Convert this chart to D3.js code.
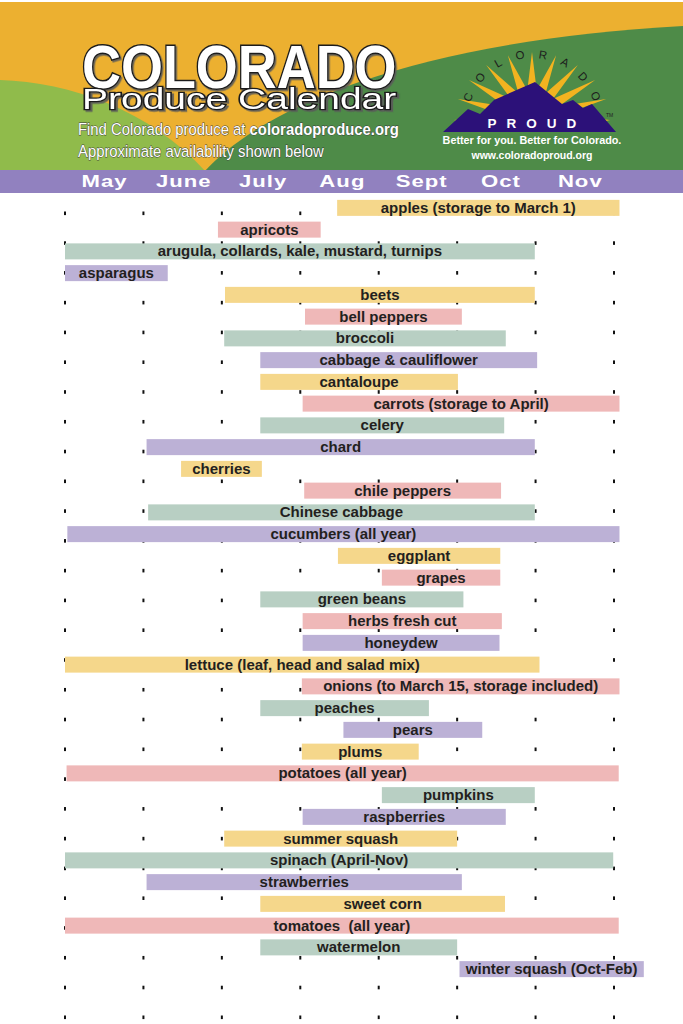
<!DOCTYPE html>
<html><head><meta charset="utf-8">
<script src="https://cdn.jsdelivr.net/npm/d3@7"></script>
<style>body{margin:0;background:#fff}svg{display:block}</style>
</head><body>
<script>
// ---------- data ----------
const months = ["May","June","July","Aug","Sept","Oct","Nov"];
const produce = [
  "apples (storage to March 1)","apricots","arugula, collards, kale, mustard, turnips","asparagus",
  "beets","bell peppers","broccoli","cabbage & cauliflower","cantaloupe","carrots (storage to April)",
  "celery","chard","cherries","chile peppers","Chinese cabbage","cucumbers (all year)","eggplant",
  "grapes","green beans","herbs fresh cut","honeydew","lettuce (leaf, head and salad mix)",
  "onions (to March 15, storage included)","peaches","pears","plums","potatoes (all year)","pumpkins",
  "raspberries","summer squash","spinach (April-Nov)","strawberries","sweet corn","tomatoes  (all year)",
  "watermelon","winter squash (Oct-Feb)"
];
// availability in months after the start of May (0 = May 1, 7 = end of Nov)
const startMonth = [3.47,1.95,0,0,2.04,3.06,2.03,2.49,2.49,3.03,2.49,1.04,1.48,3.05,1.06,0.03,3.48,
  4.04,2.49,3.03,3.03,0,3.02,2.49,3.55,3.02,0.02,4.04,3.03,2.03,0,1.04,2.49,0,2.49,5.03];
const endMonth = [7.07,3.26,5.99,1.31,5.99,5.06,5.62,6.02,5.01,7.07,5.60,5.99,2.51,5.56,5.99,7.07,5.55,
  5.55,5.08,5.57,5.54,6.05,7.07,4.64,5.32,4.51,7.06,5.99,5.62,5.00,6.99,5.06,5.61,7.06,5.00,7.38];
// colour group of each bar (0 yellow, 1 pink, 2 sage, 3 lavender)
const colorGroup = [0,1,2,3,0,1,2,3,0,1,2,3,0,1,2,3,0,1,2,1,3,0,1,2,3,0,1,2,3,0,2,3,0,1,2,3];

// ---------- setup ----------
const W = 683, H = 1024;
const svg = d3.select("body").append("svg").attr("width", W).attr("height", H);
const FONT = "'Liberation Sans', Arial, sans-serif";

const defs = svg.append("defs");
const f = defs.append("filter").attr("id","shadow").attr("x","-5%").attr("y","-10%").attr("width","115%").attr("height","130%");
f.append("feDropShadow").attr("dx",1.6).attr("dy",1.6).attr("stdDeviation",0.4).attr("flood-color","#5a5a5a").attr("flood-opacity",0.9);

const x = d3.scaleLinear().domain([0, 7]).range([65, 614]);
const y = d3.scalePoint().domain(produce).range([197, 980]).padding(0.5);
const monthX = d3.scalePoint().domain(months).range([104.5, 580.3]);
const color = d3.scaleOrdinal().domain([0,1,2,3]).range(["#f5d78b","#efb8b8","#b8cfc3","#bcb1d6"]);

// ---------- header ----------
const head = svg.append("g");
head.append("rect").attr("x",0).attr("y",2).attr("width",W).attr("height",170).attr("fill","#ecb030");
head.append("path").attr("d","M0,80 C70,82 150,110 206,172 L0,172 Z").attr("fill","#90bb4b");
head.append("path").attr("d","M204,172 C270,100 430,40 683,26 L683,172 Z").attr("fill","#4e8b48");

// title
function outlined(g, txt, tx, ty, sx, size, weight, sw) {
  g.append("g").attr("transform", `translate(${tx},${ty}) scale(${sx},1)`)
    .append("text").text(txt).attr("filter","url(#shadow)")
    .attr("font-family",FONT).attr("font-size",size).attr("font-weight",weight)
    .attr("fill","#fff").attr("stroke","#1b1b1b").attr("stroke-width",sw).style("paint-order","stroke");
}
outlined(head, "COLORADO", 82, 88, 0.87, 62, "bold", 3);
outlined(head, "Produce Calendar", 82, 109, 1.3, 30, "normal", 2.6);

const sub = head.append("g").attr("transform","translate(78,0) scale(0.9,1)")
  .attr("font-family",FONT).attr("font-size",16.5)
  .attr("fill","#fff").attr("stroke","#3a3a3a").attr("stroke-width",0.8).style("paint-order","stroke");
const l1 = sub.append("text").attr("x",0).attr("y",135);
l1.append("tspan").text("Find Colorado produce at ");
l1.append("tspan").attr("font-weight","bold").text("coloradoproduce.org");
sub.append("text").attr("x",0).attr("y",157).text("Approximate availability shown below");

// logo
const logo = head.append("g");
const cx = 532, cy = 120;
const spikes = d3.range(11).map(i => Math.PI + i * Math.PI / 10);
const pts = [];
spikes.forEach((a, i) => {
  const ro = 78, ri = 30;
  if (i > 0) {
    const am = a - Math.PI / 20;
    pts.push([cx + ri * Math.cos(am), cy + ri * Math.sin(am)]);
  }
  pts.push([cx + ro * Math.cos(a), cy + (ro - 10) * Math.sin(a)]);
});
pts.push([cx + 30, cy + 12], [cx - 30, cy + 12]);
logo.append("path").attr("d", d3.line()(pts) + "Z").attr("fill","#f2b320");

const mountains = [[443,132],[468,109],[480,114],[494,100],[535,82],[562,104],[573,100],[583,108],[592,104],[616,132]];
logo.append("path").attr("d", d3.line()(mountains) + "Z").attr("fill","#2c1179");

logo.append("text").attr("x",537).attr("y",128).attr("text-anchor","middle")
  .attr("font-family",FONT).attr("font-weight","bold").attr("font-size",13.5)
  .attr("letter-spacing",10).attr("fill","#fff").text("PROUD");
logo.append("text").attr("x",606).attr("y",117).attr("font-family",FONT)
  .attr("font-size",5).attr("fill","#222").text("TM");

"COLORADO".split("").forEach((ch, i) => {
  const ang = 202 + i * 19.3;
  const r = ang * Math.PI / 180;
  const px = cx + 69 * Math.cos(r), py = cy + 3 + 69 * Math.sin(r);
  logo.append("text").attr("transform",`translate(${px},${py}) rotate(${ang + 90})`)
    .attr("text-anchor","middle").attr("dominant-baseline","central")
    .attr("font-family",FONT).attr("font-size",11.5).attr("fill","#1d1d1d").text(ch);
});

const tag = logo.append("g").attr("font-family",FONT).attr("font-weight","bold")
  .attr("fill","#fff").attr("text-anchor","middle");
tag.append("text").attr("x",532).attr("y",144).attr("font-size",10.8).text("Better for you. Better for Colorado.");
tag.append("text").attr("x",532).attr("y",159).attr("font-size",10.5).text("www.coloradoproud.org");

// month band
svg.append("rect").attr("x",0).attr("y",170).attr("width",W).attr("height",23).attr("fill","#9181bf");
svg.append("g").selectAll("g").data(months).join("g")
  .attr("transform", d => `translate(${monthX(d)},187) scale(1.3,1)`)
  .append("text").attr("text-anchor","middle")
  .attr("font-family",FONT).attr("font-weight","bold").attr("font-size",17)
  .attr("letter-spacing",0.8).attr("fill","#fff").text(d => d);

// ---------- dots grid ----------
const dotRows = d3.range(28);
const dotY = d3.scaleLinear().domain([0, 27]).range([213.3, 1017.3]);
const dotCols = d3.range(8);
const dots = svg.append("g").attr("fill","#111");
dotRows.forEach(r => {
  dots.selectAll(null).data(dotCols).join("rect")
    .attr("x", c => x(c) - 1).attr("y", dotY(r) - 1.8).attr("width", 2).attr("height", 3.6);
});

// ---------- bars ----------
const barH = 16;
const rows = svg.append("g").selectAll("g").data(produce).join("g");
rows.append("rect")
  .attr("x", (d, i) => x(startMonth[i]))
  .attr("y", d => y(d) - barH / 2)
  .attr("width", (d, i) => x(endMonth[i]) - x(startMonth[i]))
  .attr("height", barH)
  .attr("fill", (d, i) => color(colorGroup[i]));
rows.append("text")
  .attr("x", (d, i) => (x(startMonth[i]) + x(endMonth[i])) / 2)
  .attr("y", d => y(d) + 5)
  .attr("text-anchor","middle")
  .style("white-space","pre")
  .attr("font-family",FONT).attr("font-weight","bold").attr("font-size",15)
  .attr("fill","#231f20").text(d => d);
</script>
</body></html>
